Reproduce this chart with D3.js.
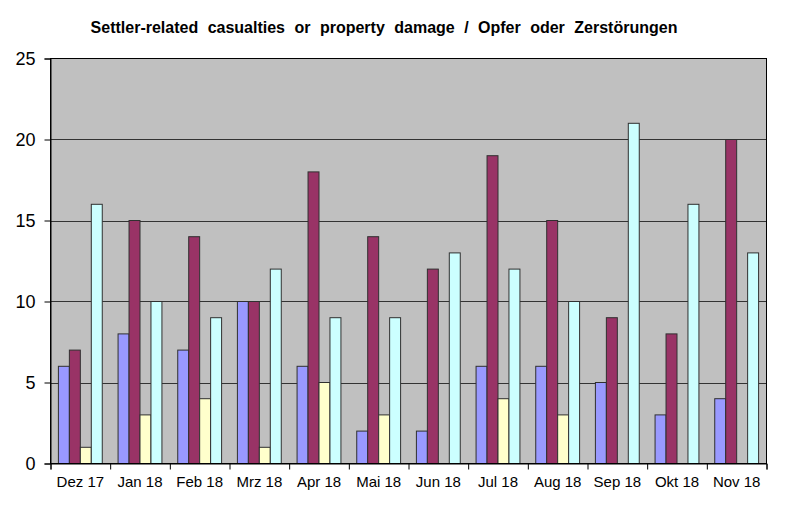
<!DOCTYPE html>
<html><head><meta charset="utf-8">
<script src="https://cdn.jsdelivr.net/npm/d3@7"></script>
<style>body{margin:0;background:#fff}svg{display:block}</style>
</head><body>
<script>
const categories = ["Dez 17","Jan 18","Feb 18","Mrz 18","Apr 18","Mai 18","Jun 18","Jul 18","Aug 18","Sep 18","Okt 18","Nov 18"];
const seriesA = [6,8,7,10,6,2,2,6,6,5,3,4];
const seriesB = [7,15,14,10,18,14,12,19,15,9,8,20];
const seriesC = [1,3,4,1,5,3,0,4,3,0,0,0];
const seriesD = [16,10,9,12,9,9,13,12,10,21,16,13];
const yTicks = [0,5,10,15,20,25];
const colors = ["#9999ff","#993366","#ffffcc","#ccffff"];
const title = "Settler-related casualties or property damage / Opfer oder Zerstörungen";

const series = [seriesA, seriesB, seriesC, seriesD];
const W = 800, H = 517;
const m = {left: 50.5, right: 766.5, top: 58.5, bottom: 463.5};

const svg = d3.select("body").append("svg").attr("width", W).attr("height", H);

svg.append("text").attr("x", 384).attr("y", 33).attr("text-anchor", "middle")
  .attr("font-family", "Arial, 'Liberation Sans', sans-serif").attr("font-weight", "bold")
  .attr("font-size", 16).attr("word-spacing", 5).attr("fill", "#000").text(title);

const x0 = d3.scaleBand().domain(categories).range([m.left, m.right]).paddingInner(0).paddingOuter(0);
const gap = x0.bandwidth() * 0.265;
const x1 = d3.scaleBand().domain(d3.range(series.length)).range([gap/2, x0.bandwidth() - gap/2]).padding(0);
const y = d3.scaleLinear().domain([0, 25]).range([m.bottom, m.top]);

svg.append("rect").attr("x", m.left).attr("y", m.top).attr("width", m.right - m.left).attr("height", m.bottom - m.top)
  .attr("fill", "#c0c0c0");

// gridlines
svg.append("g").selectAll("line").data(yTicks.filter(t => t > 0 && t < 25)).join("line")
  .attr("x1", m.left).attr("x2", m.right).attr("y1", d => Math.round(y(d)) + 0.5).attr("y2", d => Math.round(y(d)) + 0.5)
  .attr("stroke", "#333").attr("stroke-width", 1);

// bars
const flat = [];
categories.forEach((c, i) => series.forEach((s, j) => flat.push({c, j, v: s[i]})));
svg.append("g").selectAll("rect").data(flat).join("rect")
  .attr("x", d => x0(d.c) + x1(d.j))
  .attr("y", d => y(d.v))
  .attr("width", x1.bandwidth())
  .attr("height", d => y(0) - y(d.v))
  .attr("fill", d => colors[d.j])
  .attr("stroke", "#303030").attr("stroke-width", 1);

// plot border
svg.append("rect").attr("x", m.left).attr("y", m.top).attr("width", m.right - m.left).attr("height", m.bottom - m.top)
  .attr("fill", "none").attr("stroke", "#000").attr("stroke-width", 1);

// y axis
const yAxis = d3.axisLeft(y).tickValues(yTicks).tickSize(6).tickPadding(9);
const gy = svg.append("g").attr("transform", `translate(${m.left},0)`).call(yAxis);
gy.select(".domain").attr("stroke", "#000");
gy.selectAll(".tick line").attr("stroke", "#000");
gy.selectAll(".tick text").attr("font-family", "Arial, 'Liberation Sans', sans-serif").attr("font-size", 18).attr("fill", "#000");

// x axis
const xTickScale = d3.scaleLinear().domain([0, categories.length]).range([m.left, m.right]);
const gx = svg.append("g").attr("transform", `translate(0,${m.bottom})`);
gx.call(d3.axisBottom(xTickScale).tickValues(d3.range(categories.length + 1)).tickSize(6).tickFormat(""));
gx.select(".domain").attr("stroke", "#000");
gx.selectAll(".tick line").attr("stroke", "#000");
gx.selectAll("text.cat").data(categories).join("text").attr("class", "cat")
  .attr("x", d => x0(d) + x0.bandwidth()/2).attr("y", 23)
  .attr("text-anchor", "middle").attr("font-family", "Arial, 'Liberation Sans', sans-serif").attr("font-size", 15)
  .attr("fill", "#000").text(d => d);
</script>
</body></html>
